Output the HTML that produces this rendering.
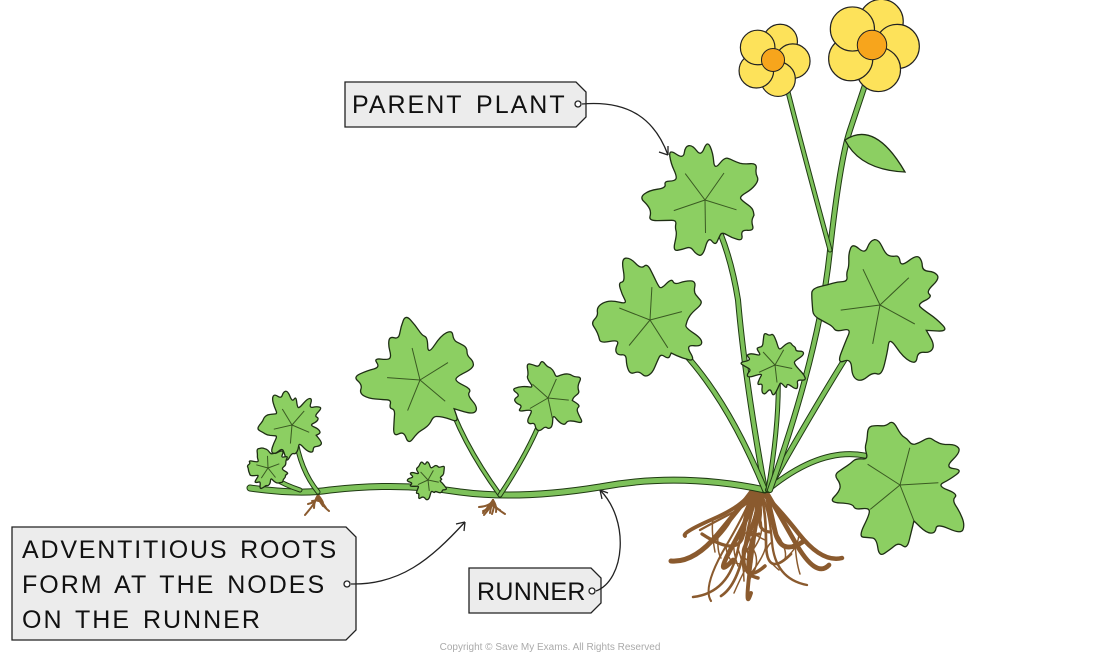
<!DOCTYPE html>
<html><head><meta charset="utf-8"><style>
html,body{margin:0;padding:0;background:#fff;width:1100px;height:659px;overflow:hidden}
svg{display:block}
.lbl{font-family:"Liberation Sans",sans-serif;font-size:25px;fill:#111;letter-spacing:2px;word-spacing:4px}
</style></head><body>
<svg id="s" width="1100" height="659" viewBox="0 0 1100 659" xmlns="http://www.w3.org/2000/svg">
<g id="roots" stroke="#3a2412" stroke-width="1" fill="none" stroke-linecap="round"></g>
<g id="stems" fill="none" stroke-linecap="round"></g>
<g id="leaves"></g>
<g id="flowers"></g>
<g stroke="#222" stroke-width="1.3">
<path d="M345 82 H576 L586 92 V117 L576 127 H345 Z" fill="#ececec"/>
<path d="M12 527 H346 L356 537 V630 L346 640 H12 Z" fill="#ececec"/>
<path d="M469 568 H591 L601 578 V603 L591 613 H469 Z" fill="#ececec"/>
<g fill="none">
<path d="M582 104 C630 100 655 120 668 155"/>
<path d="M668 155 l-9 -3 M668 155 l0 -9"/>
<path d="M351 584 C400 585 430 560 465 522"/>
<path d="M465 522 l-9 2 M465 522 l-1 9"/>
<path d="M596 591 C625 580 630 520 600 490"/>
<path d="M600 490 l2 9 M600 490 l8 3"/>
</g>
<circle cx="578" cy="104" r="3" fill="#fff"/>
<circle cx="347" cy="584" r="3" fill="#fff"/>
<circle cx="592" cy="591" r="3" fill="#fff"/>
</g>
<text class="lbl" x="352" y="113">PARENT PLANT</text>
<text class="lbl" x="22" y="558" style="letter-spacing:1.8px;word-spacing:3px">ADVENTITIOUS ROOTS</text>
<text class="lbl" x="22" y="593" style="word-spacing:3px">FORM AT THE NODES</text>
<text class="lbl" x="22" y="628" style="word-spacing:3px">ON THE RUNNER</text>
<text class="lbl" x="477" y="600" style="letter-spacing:0.3px">RUNNER</text>
<text x="550" y="650" text-anchor="middle" font-family="Liberation Sans,sans-serif" font-size="10" fill="#aaa">Copyright © Save My Exams. All Rights Reserved</text>
</svg>
<script>
var NS="http://www.w3.org/2000/svg";
function el(g,t,a){var e=document.createElementNS(NS,t);for(var k in a)e.setAttribute(k,a[k]);document.getElementById(g).appendChild(e);return e;}
var seed=7;function rnd(){seed=(seed*9301+49297)%233280;return seed/233280;}
function stem(d,w){el("stems","path",{d:d,stroke:"#1f3a12","stroke-width":w+2});el("stems","path",{d:d,stroke:"#7dc15a","stroke-width":w});}
function leaf(cx,cy,r,rot){var n=48,pts=[];for(var i=0;i<n;i++){var t=i/n*Math.PI*2+rot;var rr=r*(0.5+0.5*Math.pow(Math.abs(Math.sin(t*2.5)),0.6))*(0.85+0.3*rnd());if(i%3==0)rr*=0.85;pts.push([cx+rr*Math.cos(t),cy+rr*Math.sin(t)]);}
var d="M"+pts[0][0].toFixed(1)+" "+pts[0][1].toFixed(1);for(var i=1;i<=n;i++){var p=pts[i%n],q=pts[(i-1)%n];d+=" Q"+q[0].toFixed(1)+" "+q[1].toFixed(1)+" "+((p[0]+q[0])/2).toFixed(1)+" "+((p[1]+q[1])/2).toFixed(1);}
el("leaves","path",{d:d+"Z",fill:"#8ccf62",stroke:"#1e2e14","stroke-width":1.3});
for(var k=0;k<5;k++){var a=rot+k*Math.PI*2/5;el("leaves","path",{d:"M"+cx+" "+cy+" L"+(cx+r*0.55*Math.cos(a)).toFixed(1)+" "+(cy+r*0.55*Math.sin(a)).toFixed(1),stroke:"#3a5a22","stroke-width":1,fill:"none"});}}
for(var i=0;i<18;i++){var x=760+(rnd()-0.5)*180,y=530+rnd()*85;var mx=760+(x-760)*0.5+(rnd()-0.5)*30,my=500+(y-490)*0.5+(rnd()-0.5)*20;
el("roots","path",{d:"M"+(752+rnd()*16).toFixed(0)+" 490 Q"+(760+(x-760)*0.2).toFixed(0)+" 505 "+mx.toFixed(0)+" "+my.toFixed(0)+" T"+x.toFixed(0)+" "+y.toFixed(0),stroke:"#8a5a2e","stroke-width":(2+rnd()*3).toFixed(1)});
el("roots","path",{d:"M"+mx.toFixed(0)+" "+my.toFixed(0)+" q"+((rnd()-0.5)*30).toFixed(0)+" "+(5+rnd()*15).toFixed(0)+" "+((rnd()-0.5)*40).toFixed(0)+" "+(15+rnd()*20).toFixed(0),stroke:"#8a5a2e","stroke-width":1.5});}
[[318,495],[493,500]].forEach(function(c){for(var i=0;i<9;i++){el("roots","path",{d:"M"+c[0]+" "+c[1]+" q"+((rnd()-0.5)*10).toFixed(0)+" 6 "+((rnd()-0.5)*30).toFixed(0)+" "+(6+rnd()*14).toFixed(0),stroke:"#8a5a2e","stroke-width":2});}});
stem("M250 488 Q300 495 330 490 Q400 482 460 492 Q520 500 600 487 Q680 472 765 490",5);
stem("M765 490 Q745 380 738 300 Q730 250 712 215",4);stem("M765 490 Q720 380 660 330",4);
stem("M768 490 Q830 380 870 320",4);stem("M770 488 Q830 440 880 460",4);
stem("M768 490 Q780 420 778 370",3);stem("M770 490 Q820 350 830 250 Q840 160 850 130 Q860 100 870 70",4);
stem("M830 250 Q800 140 785 80",3);
stem("M500 495 Q460 440 445 390",3);stem("M500 495 Q530 450 545 410",3);
stem("M318 492 Q300 470 295 435",3);stem("M300 490 Q270 480 260 465",3);stem("M440 488 Q430 480 428 470",3);
leaf(705,200,60,0.3);leaf(650,320,60,1);leaf(880,305,72,0.5);leaf(900,485,70,1.2);leaf(775,365,32,0.2);
leaf(420,380,60,0.7);leaf(548,398,38,0.1);leaf(292,425,34,0.4);leaf(268,468,22,0.9);leaf(428,480,20,0.2);
el("leaves","path",{d:"M845 140 Q875 120 905 172 Q860 170 845 140Z",fill:"#8ccf62",stroke:"#1e2e14","stroke-width":1.3});
function flower(cx,cy,r){for(var i=0;i<5;i++){var a=i*Math.PI*2/5-1.2;el("flowers","circle",{cx:cx+r*0.55*Math.cos(a),cy:cy+r*0.55*Math.sin(a),r:r*0.48,fill:"#fde25a",stroke:"#222","stroke-width":1.2});}
el("flowers","circle",{cx:cx,cy:cy,r:r*0.32,fill:"#f7a51c",stroke:"#222","stroke-width":1});}
flower(773,60,36);flower(872,45,46);
</script>
</body></html>
